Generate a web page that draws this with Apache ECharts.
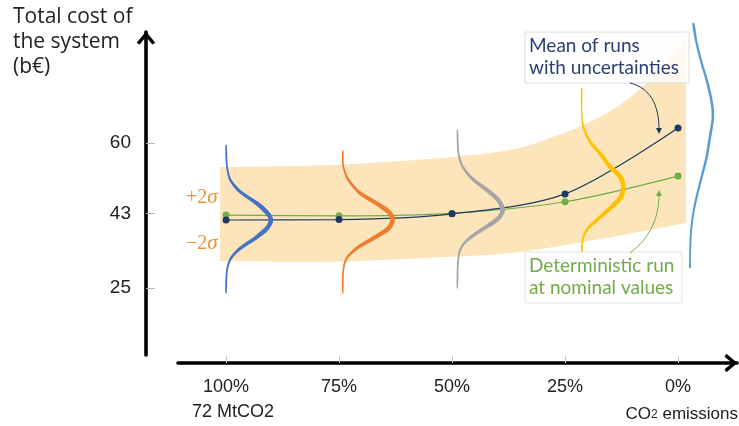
<!DOCTYPE html>
<html>
<head>
<meta charset="utf-8">
<script src="https://cdn.jsdelivr.net/npm/echarts@6/dist/echarts.min.js"></script>
<style>
  html, body { margin: 0; padding: 0; background: #ffffff; }
  #chart { width: 739px; height: 426px; }
</style>
</head>
<body>
<div id="chart"></div>
<script>
// CO2 emission scenarios, placed at x = 0..4
const scenarioLabels = ['100%', '75%', '50%', '25%', '0%'];
const scenarioSubLabels = ['72 MtCO2', '', '', '', ''];
const scenarioPos = [0, 1, 2, 3, 4];
const costTicks = [25, 43, 60];

// Total cost of the system (b€)
const meanCost = [41.4, 41.5, 42.9, 47.7, 63.6];          // mean of runs with uncertainties
const deterministicCost = [42.6, 42.4, 43.0, 45.8, 52.0];  // deterministic run at nominal values

// ±2σ envelope of the uncertain runs
const bandUpperPos = [-0.053, 0.92, 1.894, 2.513, 2.867, 3.177, 3.487, 3.752, 3.973, 4.071];
const bandUpper    = [54.2, 54.7, 56.4, 58.3, 61.2, 64.6, 69.2, 75.2, 82.0, 86.1];
const bandLowerPos = [-0.053, 0.92, 1.98, 2.60, 3.31, 4.071];
const bandLower    = [31.5, 31.3, 32.5, 33.7, 36.8, 40.7];

// Cost distributions of the runs (cost in b€, density drawn sideways in x units)
const distPos = [0, 1.033, 2.047, 3.148, 4.106];
const dist100Cost = [59.5, 54.3, 51.1, 48.2, 45.4, 43.0, 41.4, 39.4, 37.0, 34.6, 32.2, 29.3, 23.7];
const dist100Dens = [0, 0.009, 0.038, 0.127, 0.274, 0.368, 0.398, 0.363, 0.259, 0.127, 0.044, 0.009, 0];
const dist75Cost  = [58.1, 54.3, 51.1, 47.9, 45.4, 43.4, 41.6, 39.4, 37.0, 34.6, 32.2, 29.3, 23.7];
const dist75Dens  = [0, 0.005, 0.050, 0.153, 0.301, 0.404, 0.442, 0.404, 0.271, 0.124, 0.035, 0.005, 0];
const dist50Cost  = [63.1, 57.9, 54.7, 51.5, 48.7, 46.2, 43.8, 41.8, 39.8, 37.4, 35.0, 32.2, 24.9];
const dist50Dens  = [0, 0.009, 0.039, 0.127, 0.260, 0.363, 0.402, 0.363, 0.260, 0.127, 0.039, 0.009, 0];
const dist25Cost  = [73.2, 67.2, 63.9, 60.3, 57.5, 54.3, 51.9, 49.5, 47.0, 44.2, 41.4, 39.0, 36.6, 32.6];
const dist25Dens  = [0, 0, 0.014, 0.073, 0.162, 0.250, 0.339, 0.368, 0.348, 0.250, 0.133, 0.044, 0.009, 0];
const dist0Cost   = [88.9, 84.1, 79.2, 75.2, 71.2, 68.0, 65.6, 61.5, 56.7, 51.9, 47.0, 42.2, 37.4, 31.0, 29.8];
const dist0Dens   = [0.029, 0.059, 0.104, 0.148, 0.183, 0.201, 0.201, 0.177, 0.148, 0.104, 0.059, 0.024, 0.006, 0, 0];

const distCosts = [dist100Cost, dist75Cost, dist50Cost, dist25Cost, dist0Cost];
const distDens = [dist100Dens, dist75Dens, dist50Dens, dist25Dens, dist0Dens];
const distColors = ['#4472c4', '#ed7d31', '#a5a5a5', '#ffc000', '#5b9bd5'];
const distStroke = [[1.3, 4.6], [1.3, 4.8], [1.3, 4.6], [1.3, 4.8], [1.8, 2.6]];

const NAVY = '#203864';
const GREEN = '#70ad47';
const SIGMA = '#ec9430';
const arrowPath = 'path://M0,12 L10,0 L20,12 L16.8,14 L10,5.6 L3.2,14 Z';

const chart = echarts.init(document.getElementById('chart'));

// Catmull-Rom spline through pixel points, as cubic segments (without the initial move)
function splineSegments(pts) {
  let d = '';
  for (let i = 0; i < pts.length - 1; i++) {
    const p0 = pts[i - 1] || pts[i], p1 = pts[i], p2 = pts[i + 1], p3 = pts[i + 2] || pts[i + 1];
    const t = 1 / 6;
    const c1 = [p1[0] + (p2[0] - p0[0]) * t, p1[1] + (p2[1] - p0[1]) * t];
    const c2 = [p2[0] - (p3[0] - p1[0]) * t, p2[1] - (p3[1] - p1[1]) * t];
    d += ' C' + c1[0] + ',' + c1[1] + ' ' + c2[0] + ',' + c2[1] + ' ' + p2[0] + ',' + p2[1];
  }
  return d;
}

// Envelope between the lower and upper ±2σ curves
function renderBand(params, api) {
  const up = bandUpperPos.map((x, i) => api.coord([x, bandUpper[i]]));
  const lo = bandLowerPos.map((x, i) => api.coord([x, bandLower[i]])).reverse();
  const d = 'M' + up[0][0] + ',' + up[0][1] + splineSegments(up) +
            ' L' + lo[0][0] + ',' + lo[0][1] + splineSegments(lo) + ' Z';
  return { type: 'path', shape: { pathData: d }, style: { fill: '#fce5ba' } };
}

// Each distribution is a stroke of varying width, thicker where density is high
function renderDist(params, api) {
  const k = api.value(1);
  const cost = distCosts[k];
  const dens = distDens[k];
  const peak = Math.max.apply(null, dens);
  const wMin = distStroke[k][0], wMax = distStroke[k][1];
  const pts = cost.map((c, i) => api.coord([distPos[k] + dens[i], c]));
  const left = [], right = [];
  for (let i = 0; i < pts.length; i++) {
    const a = pts[Math.max(0, i - 1)], b = pts[Math.min(pts.length - 1, i + 1)];
    let tx = b[0] - a[0], ty = b[1] - a[1];
    const len = Math.hypot(tx, ty) || 1;
    tx /= len; ty /= len;
    const h = (wMin + (wMax - wMin) * Math.sqrt(dens[i] / peak)) / 2;
    left.push([pts[i][0] - ty * h, pts[i][1] + tx * h]);
    right.push([pts[i][0] + ty * h, pts[i][1] - tx * h]);
  }
  return {
    type: 'polygon',
    shape: { points: left.concat(right.reverse()), smooth: 0.3 },
    style: { fill: distColors[k] }
  };
}

const axisFont = { fontFamily: 'Liberation Sans', fontSize: 18, color: '#222' };

chart.setOption({
  animation: false,
  grid: { left: 178, right: 2, top: 32, bottom: 71 },
  xAxis: {
    type: 'value',
    min: -0.425,
    max: 4.522,
    offset: 8,
    splitLine: { show: false },
    axisLine: {
      show: true, onZero: false,
      lineStyle: { color: '#000', width: 3.6 },
      symbol: ['none', arrowPath], symbolSize: [19, 13], symbolOffset: [0, -6]
    },
    axisTick: { show: true, inside: true, length: 7, customValues: scenarioPos, lineStyle: { color: '#c8c8c8', width: 1 } },
    axisLabel: {
      customValues: scenarioPos,
      formatter: v => {
        const i = Math.round(v);
        return scenarioSubLabels[i] ? scenarioLabels[i] + '\n{sub|' + scenarioSubLabels[i] + '}' : scenarioLabels[i];
      },
      margin: 12, lineHeight: 25, align: 'center',
      ...axisFont,
      rich: { sub: { ...axisFont, lineHeight: 25, padding: [0, 0, 0, 14] } }
    }
  },
  yAxis: {
    type: 'value',
    min: 8.8,
    max: 86.8,
    offset: 32,
    splitLine: { show: false },
    axisLine: {
      show: true, onZero: false,
      lineStyle: { color: '#000', width: 3.6 },
      symbol: ['none', arrowPath], symbolSize: [19, 13], symbolOffset: [0, -6]
    },
    axisTick: { show: true, inside: true, length: 9, customValues: costTicks, lineStyle: { color: '#b8b8b8', width: 1 } },
    axisLabel: { customValues: costTicks, margin: 15, ...axisFont, fontSize: 19 }
  },
  series: [
    {
      name: '±2σ',
      type: 'custom',
      clip: false,
      renderItem: renderBand,
      data: [[0, 0]],
      z: 1,
      silent: true
    },
    {
      name: 'Deterministic run at nominal values',
      type: 'line',
      data: scenarioPos.map((x, i) => [x, deterministicCost[i]]),
      smooth: 0.3,
      symbol: 'circle',
      symbolSize: 7,
      itemStyle: { color: GREEN },
      lineStyle: { color: GREEN, width: 1.2 },
      z: 3
    },
    {
      name: 'Mean of runs with uncertainties',
      type: 'line',
      data: scenarioPos.map((x, i) => [x, meanCost[i]]),
      smooth: 0.3,
      symbol: 'circle',
      symbolSize: 7,
      itemStyle: { color: NAVY },
      lineStyle: { color: NAVY, width: 1.2 },
      z: 4
    },
    {
      name: 'distributions',
      type: 'custom',
      clip: false,
      renderItem: renderDist,
      data: distPos.map((x, k) => [x, k]),
      z: 5,
      silent: true
    }
  ]
});

// Annotations anchored to the last scenario points
const meanTip = chart.convertToPixel({ gridIndex: 0 }, [scenarioPos[4], meanCost[4]]);
const detTip = chart.convertToPixel({ gridIndex: 0 }, [scenarioPos[4], deterministicCost[4]]);

function arrowHead(x, y, dir, color) {
  // dir: 1 = pointing down, -1 = pointing up
  return {
    type: 'polygon', z: 120,
    shape: { points: [[x - 3, y - 6 * dir], [x + 3, y - 6 * dir], [x, y]] },
    style: { fill: color }
  };
}

const meanEnd = [meanTip[0] - 19, meanTip[1] + 6];
const detEnd = [detTip[0] - 19, detTip[1] + 14];

const textFont = 'Lato';

chart.setOption({
  graphic: [
    {
      type: 'text', left: 13, top: 5, z: 100,
      style: { text: 'Total cost of\nthe system\n(b€)', font: '21px "Open Sans"', lineHeight: 25, fill: '#222' }
    },
    {
      type: 'text', left: 186, top: 187, z: 100,
      style: {
        text: '+2{i|σ}',
        fontFamily: 'Liberation Serif', fontSize: 20, fill: SIGMA,
        rich: { i: { fontFamily: 'Liberation Serif', fontStyle: 'italic', fontSize: 21, fill: SIGMA } }
      }
    },
    {
      type: 'text', left: 186, top: 233, z: 100,
      style: {
        text: '\u22122{i|σ}',
        fontFamily: 'Liberation Serif', fontSize: 20, fill: SIGMA,
        rich: { i: { fontFamily: 'Liberation Serif', fontStyle: 'italic', fontSize: 21, fill: SIGMA } }
      }
    },
    {
      type: 'rect', z: 110,
      shape: { x: 525, y: 32, width: 164, height: 51 },
      style: { fill: 'rgba(255,254,255,0.8)', stroke: '#dcdcdc', lineWidth: 1 }
    },
    {
      type: 'text', z: 111, x: 529, y: 35,
      style: { text: 'Mean of runs\nwith uncertainties', fontFamily: textFont, fontSize: 19, lineHeight: 22, fill: '#2b3f73' }
    },
    {
      type: 'rect', z: 110,
      shape: { x: 525, y: 252, width: 157, height: 51 },
      style: { fill: '#fffdff', stroke: '#e2e2e2', lineWidth: 1 }
    },
    {
      type: 'text', z: 111, x: 529, y: 255,
      style: { text: 'Deterministic run\nat nominal values', fontFamily: textFont, fontSize: 19, lineHeight: 22, fill: GREEN }
    },
    {
      type: 'bezierCurve', z: 120,
      shape: { x1: 630, y1: 83, cpx1: 650, cpy1: 88, cpx2: meanEnd[0], cpy2: meanEnd[1] - 30, x2: meanEnd[0], y2: meanEnd[1] - 4 },
      style: { stroke: NAVY, lineWidth: 1, fill: 'none' }
    },
    arrowHead(meanEnd[0], meanEnd[1], 1, NAVY),
    {
      type: 'bezierCurve', z: 120,
      shape: { x1: 630, y1: 253, cpx1: 650, cpy1: 238, cpx2: detEnd[0], cpy2: detEnd[1] + 28, x2: detEnd[0], y2: detEnd[1] + 4 },
      style: { stroke: GREEN, lineWidth: 1, fill: 'none' }
    },
    arrowHead(detEnd[0], detEnd[1], -1, GREEN),
    {
      type: 'text', z: 100, right: 1, top: 406,
      style: {
        text: 'CO{s|2} emissions',
        fontFamily: 'Liberation Sans', fontSize: 17, fill: '#222',
        rich: { s: { fontFamily: 'Liberation Sans', fontSize: 12, fill: '#222' } }
      }
    }
  ]
});
</script>
</body>
</html>
